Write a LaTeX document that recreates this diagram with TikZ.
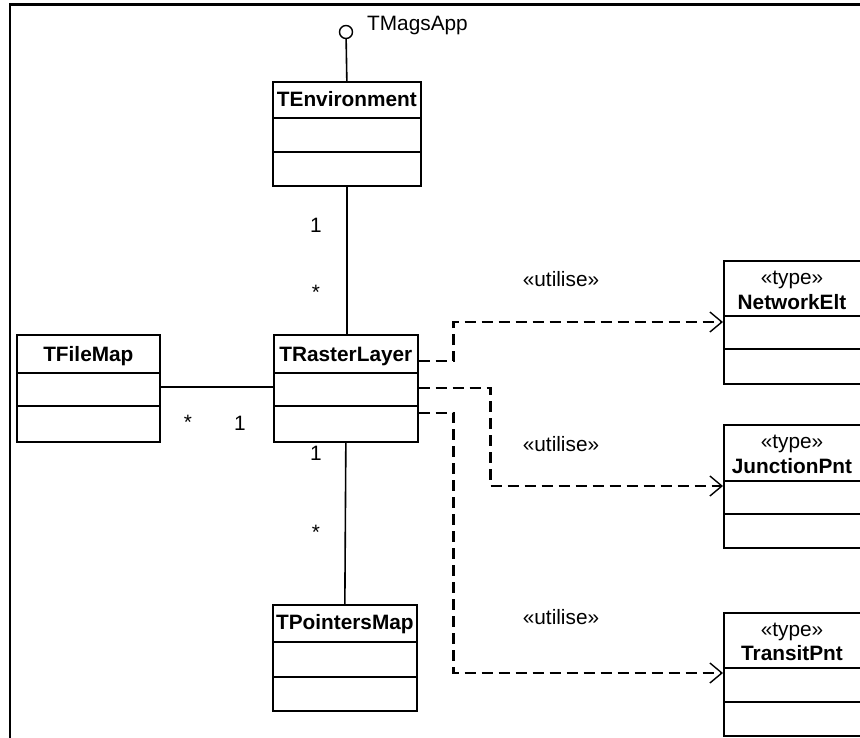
\documentclass[tikz,border=0pt]{standalone}
\usepackage{fontspec}
\setmainfont{Liberation Sans}
\usetikzlibrary{arrows.meta,calc}
\begin{document}
\begin{tikzpicture}[x=1pt,y=-1pt,
  box/.style={draw, line width=1.7pt, inner sep=0pt, anchor=north west},
  divider/.style={line width=1.7pt},
  cname/.style={font=\fontsize{20.8}{25}\selectfont\bfseries, anchor=base, inner sep=0pt},
  lbl/.style={font=\fontsize{20.8}{25}\selectfont, anchor=base, inner sep=0pt},
  assoc/.style={line width=1.6pt},
  dep/.style={line width=2.7pt, dash pattern=on 11pt off 6pt,
    -{Straight Barb[length=12pt,width=20pt,line width=1.4pt]}},
]
\useasboundingbox (0,0) rectangle (860,737);
\clip (0,0) rectangle (860,737);
\fill[white] (0,0) rectangle (860,737);

% frame
\draw[line width=2.6pt] (10,745) -- (10,4.5) -- (870,4.5);

% TEnvironment
\node[box, minimum width=148pt, minimum height=104pt] (env) at (272,81) {};
\draw[divider] ($(env.north west)+(0,37)$) -- ($(env.north east)+(0,37)$);
\draw[divider] ($(env.north west)+(0,71)$) -- ($(env.north east)+(0,71)$);
\node[cname] (envn) at ($(env.north)+(0,25)$) {TEnvironment};

% interface lollipop
\node[circle, draw, line width=1.4pt, minimum size=13pt, inner sep=0pt] (iface) at (346,32) {};
\node[lbl, anchor=base west] (ifacel) at (367,30) {TMagsApp};
\draw[assoc] (iface) -- (env.north);

% TRasterLayer
\node[box, minimum width=144pt, minimum height=107pt] (ras) at (273,334) {};
\draw[divider] ($(ras.north west)+(0,39)$) -- ($(ras.north east)+(0,39)$);
\draw[divider] ($(ras.north west)+(0,72)$) -- ($(ras.north east)+(0,72)$);
\node[cname] (rasn) at ($(ras.north)+(0,27)$) {TRasterLayer};

% TFileMap
\node[box, minimum width=143pt, minimum height=107pt] (fm) at (16,334) {};
\draw[divider] ($(fm.north west)+(0,39)$) -- ($(fm.north east)+(0,39)$);
\draw[divider] ($(fm.north west)+(0,72)$) -- ($(fm.north east)+(0,72)$);
\node[cname] (fmn) at ($(fm.north)+(0,27)$) {TFileMap};

% TPointersMap
\node[box, minimum width=144pt, minimum height=106pt] (ptr) at (272,604) {};
\draw[divider] ($(ptr.north west)+(0,38)$) -- ($(ptr.north east)+(0,38)$);
\draw[divider] ($(ptr.north west)+(0,73)$) -- ($(ptr.north east)+(0,73)$);
\node[cname] (ptrn) at ($(ptr.north)+(0,25.5)$) {TPointersMap};

% type boxes
\node[box, minimum width=139pt, minimum height=123pt] (net) at (723,260) {};
\draw[divider] ($(net.north west)+(0,56)$) -- ($(net.north east)+(0,56)$);
\draw[divider] ($(net.north west)+(0,89)$) -- ($(net.north east)+(0,89)$);
\node[lbl] (nett) at ($(net.north west)+(69,24)$) {«type»};
\node[cname] (netn) at ($(net.north west)+(69,49.5)$) {NetworkElt};

\node[box, minimum width=139pt, minimum height=123pt] (jun) at (723,424) {};
\draw[divider] ($(jun.north west)+(0,57)$) -- ($(jun.north east)+(0,57)$);
\draw[divider] ($(jun.north west)+(0,90)$) -- ($(jun.north east)+(0,90)$);
\node[lbl] (junt) at ($(jun.north west)+(69,24.5)$) {«type»};
\node[cname] (junn) at ($(jun.north west)+(69,49)$) {JunctionPnt};

\node[box, minimum width=139pt, minimum height=123pt] (tra) at (723,612) {};
\draw[divider] ($(tra.north west)+(0,56)$) -- ($(tra.north east)+(0,56)$);
\draw[divider] ($(tra.north west)+(0,90)$) -- ($(tra.north east)+(0,90)$);
\node[lbl] (trat) at ($(tra.north west)+(69,24)$) {«type»};
\node[cname] (tran) at ($(tra.north west)+(69,48)$) {TransitPnt};

% associations
\draw[assoc] (env.south) -- (env.south |- ras.north);
\draw[assoc] ($(fm.north east)+(0,53)$) -- ($(ras.north west)+(0,53)$);
\draw[assoc] (ras.south) -- (ptr.north);

% multiplicities
\node[lbl] (m1) at (316,232) {1};
\node[lbl] (m2) at (316,299) {*};
\node[lbl] (m3) at (188,429) {*};
\node[lbl] (m4) at (240,430) {1};
\node[lbl] (m5) at (316,460) {1};
\node[lbl] (m6) at (316,539) {*};

% dependencies
\draw[dep] ($(ras.north east)+(0,27)$) -- ++(35,0) |- ($(net.north west)+(0,62)$);
\draw[dep] ($(ras.north east)+(0,54)$) -- ++(72,0) |- ($(jun.north west)+(0,62)$);
\draw[dep] ($(ras.north east)+(0,79)$) -- ++(35,0) |- ($(tra.north west)+(0,61)$);

\node[lbl] (u1) at (561,286) {«utilise»};
\node[lbl] (u2) at (561,451) {«utilise»};
\node[lbl] (u3) at (561,624) {«utilise»};
\end{tikzpicture}
\end{document}
